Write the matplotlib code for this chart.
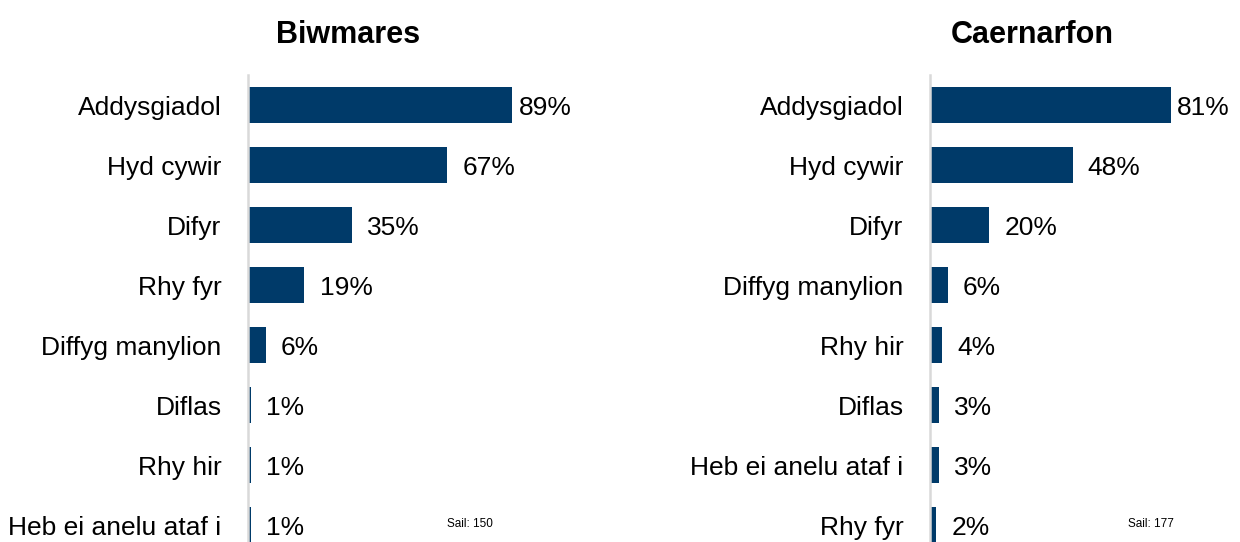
import matplotlib.pyplot as plt

plt.rcParams['font.family'] = ['Liberation Sans', 'DejaVu Sans']

# Biwmares
cats_b = ['Addysgiadol', 'Hyd cywir', 'Difyr', 'Rhy fyr', 'Diffyg manylion',
          'Diflas', 'Rhy hir', 'Heb ei anelu ataf i']
vals_b = [89, 67, 35, 19, 6, 1, 1, 1]

# Caernarfon
cats_c = ['Addysgiadol', 'Hyd cywir', 'Difyr', 'Diffyg manylion', 'Rhy hir',
          'Diflas', 'Heb ei anelu ataf i', 'Rhy fyr']
vals_c = [81, 48, 20, 6, 4, 3, 3, 2]

titles = ['Biwmares', 'Caernarfon']
bases = ['Sail: 150', 'Sail: 177']

bar_col = '#003A69'

fig = plt.figure(figsize=(12.4, 5.42), dpi=100)

panels = [(cats_b, vals_b, 248), (cats_c, vals_c, 930)]
title_x = [348, 1032]
sail_x = [447, 1128]

for i, (cats, vals, x0) in enumerate(panels):
    ax = fig.add_axes([x0 / 1240, 0, 297 / 1240, 1 - 75 / 542])
    ypos = list(range(len(cats)))
    ax.barh(ypos, vals, height=0.6, color=bar_col)
    ax.set_xlim(0, 100)
    ax.set_ylim(7.283, -0.5)
    ax.set_yticks(ypos)
    ax.set_yticklabels(cats, fontsize=19)
    ax.tick_params(axis='y', length=0, pad=19)
    ax.set_xticks([])
    for s in ['top', 'right', 'bottom']:
        ax.spines[s].set_visible(False)
    ax.spines['left'].set_color('#d9d9d9')
    ax.spines['left'].set_linewidth(1.8)
    for y, v in zip(ypos, vals):
        off = 4.5 if v == max(vals) else 11
        ax.annotate(f'{v}%', xy=(v, y), xytext=(off, 0), textcoords='offset points',
                    va='center_baseline', ha='left', fontsize=19)
    fig.text(title_x[i] / 1240, 1 - 35 / 542, titles[i], fontsize=22,
             fontweight='bold', ha='center', va='center')
    fig.text(sail_x[i] / 1240, 1 - 524 / 542, bases[i], fontsize=8.5,
             ha='left', va='center')

fig.savefig('out.png', dpi=100)
